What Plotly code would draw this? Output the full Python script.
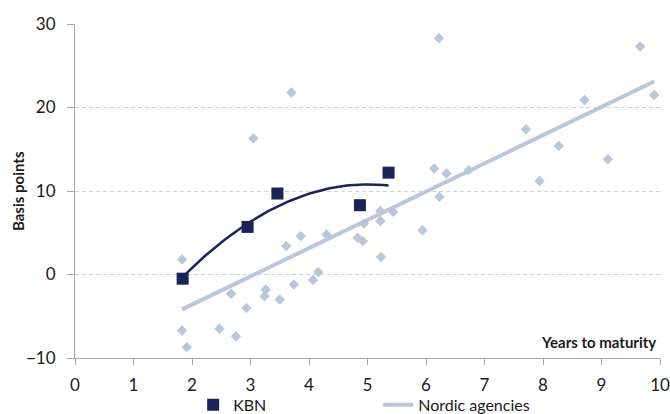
import numpy as np
import plotly.graph_objects as go

# Nordic agency bonds: years to maturity vs spread (basis points)
nordic_years = [1.83, 1.83, 1.91, 2.47, 2.67, 2.75, 2.93, 3.05, 3.24, 3.26,
                3.50, 3.61, 3.70, 3.74, 3.86, 4.07, 4.16, 4.30, 4.83, 4.92,
                4.94, 5.22, 5.22, 5.23, 5.44, 5.94, 6.14, 6.22, 6.23, 6.35,
                6.73, 7.71, 7.94, 8.27, 8.71, 9.11, 9.66, 9.90]
nordic_bp = [1.8, -6.7, -8.7, -6.5, -2.3, -7.4, -4.0, 16.3, -2.6, -1.8,
             -3.0, 3.4, 21.8, -1.2, 4.6, -0.65, 0.3, 4.8, 4.4, 4.0,
             6.1, 7.6, 6.4, 2.1, 7.5, 5.3, 12.7, 28.3, 9.3, 12.1,
             12.5, 17.4, 11.2, 15.4, 20.9, 13.8, 27.3, 21.5]

# KBN bonds
kbn_years = [1.84, 2.95, 3.46, 4.87, 5.36]
kbn_bp = [-0.5, 5.7, 9.7, 8.3, 12.2]

x_ticks = list(range(0, 11))
y_ticks = [-10, 0, 10, 20, 30]

NAVY = "#1c2358"
LIGHT = "#b9c7d8"
FONT = "Lato"

# Trend lines: linear for Nordic agencies, 2nd-order polynomial for KBN
n_coef = np.polyfit(nordic_years, nordic_bp, 1)
n_x = np.linspace(min(nordic_years), max(nordic_years), 50)
n_y = np.polyval(n_coef, n_x)

k_coef = np.polyfit(kbn_years, kbn_bp, 2)
k_x = np.linspace(min(kbn_years), max(kbn_years), 80)
k_y = np.polyval(k_coef, k_x)

fig = go.Figure()
fig.add_trace(go.Scatter(
    x=nordic_years, y=nordic_bp, mode="markers",
    marker=dict(symbol="diamond", size=8, color=LIGHT),
    showlegend=False, hoverinfo="skip"))
fig.add_trace(go.Scatter(
    x=n_x, y=n_y, mode="lines", name="Nordic agencies",
    line=dict(color=LIGHT, width=4), legendrank=2))
fig.add_trace(go.Scatter(
    x=k_x, y=k_y, mode="lines", line=dict(color=NAVY, width=2.5),
    showlegend=False, hoverinfo="skip"))
fig.add_trace(go.Scatter(
    x=kbn_years, y=kbn_bp, mode="markers", name="KBN",
    marker=dict(symbol="square", size=12, color=NAVY), legendrank=1))

fig.update_layout(
    width=670, height=414,
    margin=dict(l=75, r=10, t=24, b=56),
    paper_bgcolor="white", plot_bgcolor="white",
    font=dict(family=FONT, size=17, color="#1a1a1a"),
    legend=dict(orientation="h", x=0.202, xanchor="left",
                yref="container", y=0.022, yanchor="middle",
                entrywidthmode="pixels", entrywidth=140,
                font=dict(size=16), bgcolor="rgba(0,0,0,0)"),
    xaxis=dict(range=[0, 10], tickvals=x_ticks, showgrid=False,
               zeroline=False, showline=True, linecolor="#a6a6a6",
               linewidth=1, ticks="outside", ticklen=6, automargin=False,
               tickcolor="#a6a6a6", ticklabelstandoff=6),
    yaxis=dict(range=[-10, 30], tickvals=y_ticks, showgrid=True,
               gridcolor="#c9d3e0", griddash="4px,3px", gridwidth=1,
               zeroline=False, showline=True, linecolor="#a6a6a6",
               linewidth=1, ticks="outside", ticklen=7, automargin=False,
               tickcolor="#a6a6a6", ticklabelstandoff=8),
    annotations=[
        dict(text="<b>Basis points</b>", xref="paper", yref="paper",
             x=0, y=0.5, xshift=-57, textangle=-90, showarrow=False,
             xanchor="center", yanchor="middle", font=dict(size=15)),
        dict(text="<b>Years to maturity</b>", xref="paper", yref="paper",
             x=1, y=0, xshift=-2, yshift=16, showarrow=False,
             xanchor="right", yanchor="middle", font=dict(size=15)),
    ],
)

fig.write_html("out.html")
